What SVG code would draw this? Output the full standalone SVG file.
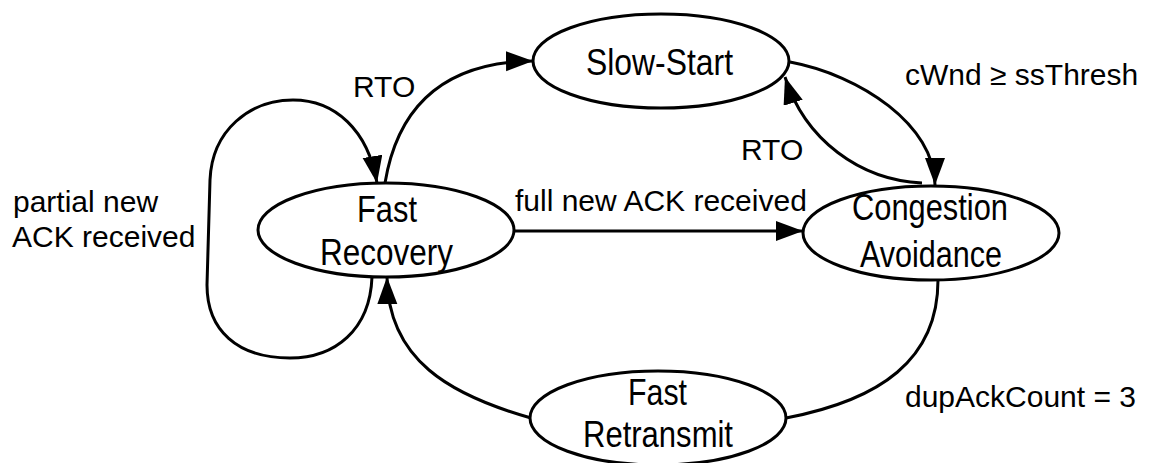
<svg xmlns="http://www.w3.org/2000/svg" width="1149" height="463" viewBox="0 0 1149 463">
<style>
.node{fill:#fff;stroke:#000;stroke-width:3}
.nt{font-family:"Liberation Sans",Arial,sans-serif;font-size:37px;fill:#000;text-anchor:middle}
.lbl{font-family:"Liberation Sans",Arial,sans-serif;font-size:30px;fill:#000}
.edge{fill:none;stroke:#000;stroke-width:3}
</style>
<defs>
<marker id="arr" markerUnits="userSpaceOnUse" markerWidth="28" markerHeight="22" refX="27" refY="10" orient="auto" viewBox="0 0 28 22">
<path d="M0,0 L27,10 L0,20 Z" fill="#000"/>
</marker>
</defs>
<rect width="1149" height="463" fill="#fff"/>
<g id="connectors">
<path class="edge" d="M385,183 C398,105 445,62 533,61" marker-end="url(#arr)"/>
<path class="edge" d="M372,277 C370,330 335,358 290,358 C237,358 207,330 207,285 L210,180 C212,130 250,100 293,100 C335,100 368,130 377,183" marker-end="url(#arr)"/>
<path class="edge" d="M513,231 L803,231" marker-end="url(#arr)"/>
<path class="edge" d="M790,62 C860,75 935,125 935,185" marker-end="url(#arr)"/>
<path class="edge" d="M922,183 C860,180 805,140 785,77" marker-end="url(#arr)"/>
<path class="edge" d="M938,280 C938,360 880,400 786,418"/>
<path class="edge" d="M531,418 C450,395 388,360 387,277" marker-end="url(#arr)"/>
</g>
<g id="labels">
<text class="lbl" x="353" y="97">RTO</text>
<text class="lbl" x="905" y="85">cWnd ≥ ssThresh</text>
<text class="lbl" x="741" y="160">RTO</text>
<text class="lbl" x="515" y="211">full new ACK received</text>
<text class="lbl" x="13" y="212">partial new</text>
<text class="lbl" x="12" y="247">ACK received</text>
<text class="lbl" x="905" y="407">dupAckCount = 3</text>
</g>
<g id="fast-recovery">
<ellipse class="node" cx="386" cy="230" rx="128" ry="47"/>
<text class="nt" x="387" y="222" textLength="60" lengthAdjust="spacingAndGlyphs">Fast</text>
<text class="nt" x="386.5" y="265" textLength="133" lengthAdjust="spacingAndGlyphs">Recovery</text>
</g>
<g id="slow-start">
<ellipse class="node" cx="661" cy="61" rx="128" ry="47"/>
<text class="nt" x="659.5" y="75" textLength="147" lengthAdjust="spacingAndGlyphs">Slow-Start</text>
</g>
<g id="congestion-avoidance">
<ellipse class="node" cx="931" cy="233" rx="128" ry="47"/>
<text class="nt" x="930" y="220" textLength="156" lengthAdjust="spacingAndGlyphs">Congestion</text>
<text class="nt" x="931" y="267" textLength="142" lengthAdjust="spacingAndGlyphs">Avoidance</text>
</g>
<g id="fast-retransmit">
<ellipse class="node" cx="658" cy="418" rx="128" ry="47"/>
<text class="nt" x="657.5" y="405" textLength="59" lengthAdjust="spacingAndGlyphs">Fast</text>
<text class="nt" x="658" y="447" textLength="150" lengthAdjust="spacingAndGlyphs">Retransmit</text>
</g>
</svg>
